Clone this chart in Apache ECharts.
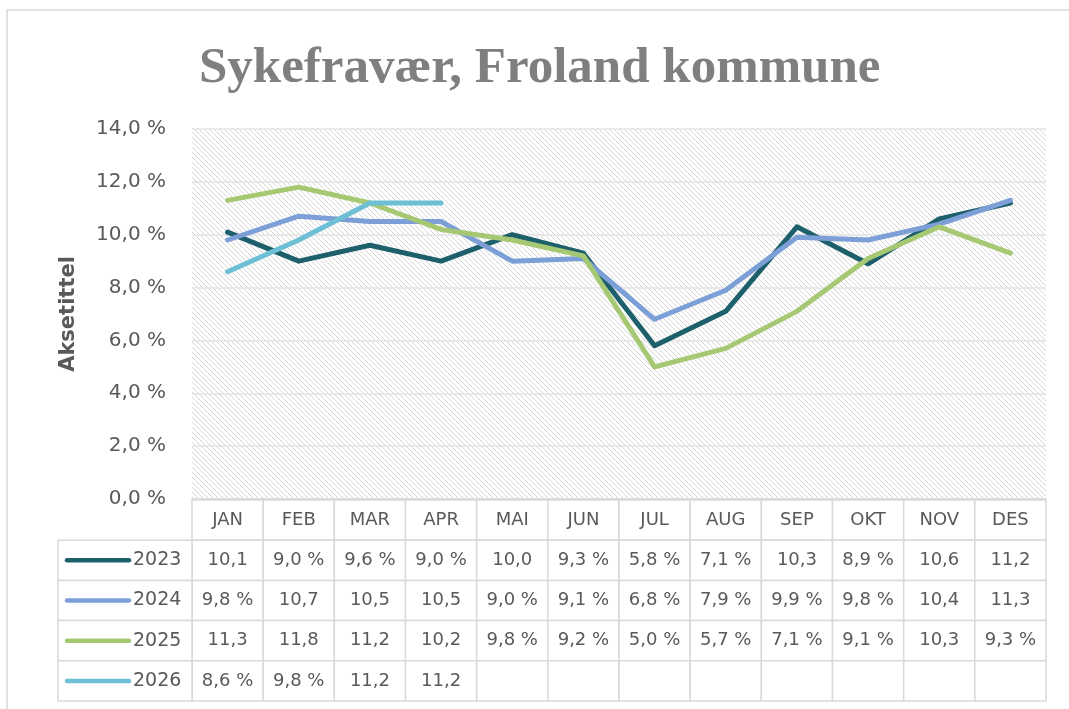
<!DOCTYPE html>
<html>
<head>
<meta charset="utf-8">
<script src="https://cdn.jsdelivr.net/npm/echarts@6/dist/echarts.min.js"></script>
<style>
  html, body { margin: 0; padding: 0; background: #fff; }
  #main { width: 1069px; height: 709px; }
</style>
</head>
<body>
<div id="main"></div>
<script>
const months = ['JAN', 'FEB', 'MAR', 'APR', 'MAI', 'JUN', 'JUL', 'AUG', 'SEP', 'OKT', 'NOV', 'DES']
const years = ['2023', '2024', '2025', '2026']
const v2023 = [10.1, 9.0, 9.6, 9.0, 10.0, 9.3, 5.8, 7.1, 10.3, 8.9, 10.6, 11.2]
const v2024 = [9.8, 10.7, 10.5, 10.5, 9.0, 9.1, 6.8, 7.9, 9.9, 9.8, 10.4, 11.3]
const v2025 = [11.3, 11.8, 11.2, 10.2, 9.8, 9.2, 5.0, 5.7, 7.1, 9.1, 10.3, 9.3]
const v2026 = [8.6, 9.8, 11.2, 11.2]
const colors = ['#1e5f6c', '#7b9fd6', '#a6c873', '#6cbfd4']
const yTicks = { min: 0, max: 14, interval: 2 }

const allValues = [v2023, v2024, v2025, v2026]
const txt = '#595959'
const font = '"DejaVu Sans", sans-serif'

// skravert bakgrunn i plottområdet
const hatch = document.createElement('canvas')
hatch.width = 5
hatch.height = 5
const hc = hatch.getContext('2d')
hc.fillStyle = '#fff'
hc.fillRect(0, 0, 5, 5)
hc.strokeStyle = '#d6d6d6'
hc.lineWidth = 1
hc.beginPath()
hc.moveTo(-1, -1); hc.lineTo(6, 6)
hc.moveTo(-1, 4); hc.lineTo(1, 6)
hc.moveTo(4, -1); hc.lineTo(6, 1)
hc.stroke()

// tekst i tabellen: tall over 10 blir kuttet som i Excel
const cellText = (v) => {
  if (v === undefined || v === null) return ''
  const s = v.toFixed(1).replace('.', ',')
  return v >= 10 ? s : s + ' %'
}

const tableData = []
months.forEach((m, c) => { tableData.push([c, 0, m]) })
allValues.forEach((arr, r) => {
  months.forEach((m, c) => { tableData.push([c, r + 1, cellText(arr[c])]) })
})
const legendData = years.map((y, i) => [0, i + 1, y])

const chart = echarts.init(document.getElementById('main'))
chart.setOption({
  animation: false,
  backgroundColor: '#fff',
  title: {
    text: 'Sykefravær, Froland kommune',
    left: 194,
    top: 38,
    textStyle: {
      fontFamily: '"Liberation Serif", serif',
      fontWeight: 'bold',
      fontSize: 51,
      color: '#7f7f7f'
    }
  },
  graphic: [{
    type: 'rect',
    shape: { x: 7, y: 10, width: 1080, height: 720 },
    style: { fill: null, stroke: '#d9d9d9', lineWidth: 1.5 },
    silent: true,
    z: -1
  }],
  grid: [
    { left: 192, right: 23, top: 129, bottom: 210, show: true, backgroundColor: { image: hatch, repeat: 'repeat' }, borderWidth: 0 },
    { left: 192, right: 23, top: 500, bottom: 8 }
  ],
  xAxis: [
    {
      type: 'category', data: months, gridIndex: 0, boundaryGap: true,
      axisLine: { show: true, lineStyle: { color: '#d9d9d9', width: 1.5 } },
      axisTick: { show: false }, axisLabel: { show: false }
    },
    {
      type: 'category', data: months, gridIndex: 1,
      axisLine: { show: false }, axisTick: { show: false }, axisLabel: { show: false }
    }
  ],
  yAxis: [
    {
      type: 'value', gridIndex: 0, min: yTicks.min, max: yTicks.max, interval: yTicks.interval,
      name: 'Aksetittel', nameLocation: 'middle', nameGap: 113,
      nameTextStyle: { fontFamily: font, fontSize: 21, fontWeight: 'bold', color: txt },
      axisLine: { show: false }, axisTick: { show: false },
      axisLabel: {
        fontFamily: font, fontSize: 20, color: txt, margin: 26,
        formatter: (v) => v.toFixed(1).replace('.', ',') + ' %'
      },
      splitLine: { lineStyle: { color: '#e3e3e3', width: 1.5 } }
    },
    {
      type: 'category', gridIndex: 1, inverse: true, data: ['', ...years],
      axisLine: { show: false }, axisTick: { show: false }, axisLabel: { show: false }, splitLine: { show: false }
    }
  ],
  series: [
    ...years.map((y, i) => ({
      name: y,
      type: 'line',
      xAxisIndex: 0, yAxisIndex: 0,
      data: allValues[i],
      symbol: 'none',
      lineStyle: { color: colors[i], width: 5, cap: 'round', join: 'round' },
      itemStyle: { color: colors[i] },
      z: 3
    })),
    {
      type: 'custom',
      xAxisIndex: 1, yAxisIndex: 1,
      data: tableData,
      clip: false,
      renderItem: (params, api) => {
        const p = api.coord([api.value(0), api.value(1)])
        const sz = api.size([1, 1])
        const t = tableData[params.dataIndex][2]
        return {
          type: 'group',
          children: [
            {
              type: 'rect',
              shape: { x: p[0] - sz[0] / 2, y: p[1] - sz[1] / 2, width: sz[0], height: sz[1] },
              style: { fill: '#fff', stroke: '#d9d9d9', lineWidth: 1.5 }
            },
            {
              type: 'text',
              style: { text: t, x: p[0], y: p[1], align: 'center', verticalAlign: 'middle', font: '18px ' + font, fill: txt }
            }
          ]
        }
      }
    },
    {
      type: 'custom',
      xAxisIndex: 1, yAxisIndex: 1,
      data: legendData,
      clip: false,
      renderItem: (params, api) => {
        const p = api.coord([api.value(0), api.value(1)])
        const sz = api.size([1, 1])
        const i = params.dataIndex
        const x0 = p[0] - sz[0] / 2 - 134
        return {
          type: 'group',
          children: [
            {
              type: 'rect',
              shape: { x: x0, y: p[1] - sz[1] / 2, width: 134, height: sz[1] },
              style: { fill: '#fff', stroke: '#d9d9d9', lineWidth: 1.5 }
            },
            {
              type: 'line',
              shape: { x1: x0 + 9, y1: p[1], x2: x0 + 71, y2: p[1] },
              style: { stroke: colors[i], lineWidth: 4.5, lineCap: 'round' }
            },
            {
              type: 'text',
              style: { text: years[i], x: x0 + 75, y: p[1], align: 'left', verticalAlign: 'middle', font: '19px ' + font, fill: txt }
            }
          ]
        }
      }
    }
  ]
})
</script>
</body>
</html>
